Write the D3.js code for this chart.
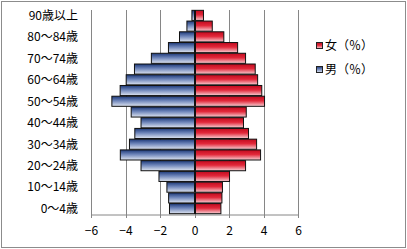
<!DOCTYPE html>
<head>
<meta charset="utf-8">
<title>人口ピラミッド</title>
<script src="https://cdn.jsdelivr.net/npm/d3@7"></script>
<style>
body { margin: 0; background: #fff; }
text { font-family: "Noto Sans CJK JP", sans-serif; fill: #000; }
</style>
</head>
<body>
<script>
// age groups, bottom to top
var ages = ["0～4歳","5～9歳","10～14歳","15～19歳","20～24歳","25～29歳","30～34歳",
	"35～39歳","40～44歳","45～49歳","50～54歳","55～59歳","60～64歳","65～69歳",
	"70～74歳","75～79歳","80～84歳","85～89歳","90歳以上"];
var female = [1.53,1.59,1.62,2.03,2.96,3.83,3.6,3.13,2.84,3.0,4.06,3.9,3.66,3.52,2.96,2.5,1.7,1.03,0.52];
var male = [-1.45,-1.5,-1.6,-2.06,-3.1,-4.3,-3.77,-3.46,-3.1,-3.67,-4.79,-4.31,-3.96,-3.48,-2.5,-1.51,-0.87,-0.44,-0.15];
var xTicks = [-6,-4,-2,0,2,4,6];
var series = ["女（％）","男（％）"];

var width = 407, height = 249;

var svg = d3.select("body").append("svg")
	.attr("width", width)
	.attr("height", height);

// gradients
var defs = svg.append("defs");
function grad(id, c1, c2, c3) {
	var g = defs.append("linearGradient").attr("id", id)
		.attr("x1", 0).attr("y1", 0).attr("x2", 0).attr("y2", 1);
	g.append("stop").attr("offset", "0%").attr("stop-color", c1);
	g.append("stop").attr("offset", "45%").attr("stop-color", c2);
	g.append("stop").attr("offset", "100%").attr("stop-color", c3);
}
grad("gBlue", "#1c3878", "#6f86ba", "#dfe5f1");
grad("gRed", "#c00a1e", "#e2283a", "#f8d0d5");

// outer border
svg.append("rect")
	.attr("x", 1.5).attr("y", 1.5)
	.attr("width", 404).attr("height", 246)
	.attr("fill", "none").attr("stroke", "#8c8c8c");

var x = d3.scaleLinear().domain([-6, 6]).range([91, 298]);
var y = d3.scaleBand().domain(ages.slice().reverse()).range([10, 214]).paddingInner(0.06).paddingOuter(0.03);

// grid lines
svg.append("g").selectAll("line").data(xTicks).enter().append("line")
	.attr("x1", function(d) { return Math.round(x(d)) + 0.5; })
	.attr("x2", function(d) { return Math.round(x(d)) + 0.5; })
	.attr("y1", 10).attr("y2", 218)
	.attr("stroke", "#868686");

// x axis
var xAxis = svg.append("g")
	.attr("transform", "translate(0,214.5)")
	.call(d3.axisBottom(x).tickValues(xTicks).tickSize(0).tickPadding(12));
xAxis.select(".domain").attr("stroke", "#868686");
xAxis.selectAll("text").style("font-size", "12px").attr("fill", "#000");

// bars
var data = ages.map(function(a, i) { return {age: a, f: female[i], m: male[i]}; });

svg.append("g").selectAll("rect").data(data).enter().append("rect")
	.attr("x", function(d) { return x(d.m); })
	.attr("y", function(d) { return y(d.age); })
	.attr("width", function(d) { return x(0) - x(d.m); })
	.attr("height", y.bandwidth())
	.attr("fill", "url(#gBlue)")
	.attr("stroke", "#111").attr("stroke-width", 1);

svg.append("g").selectAll("rect").data(data).enter().append("rect")
	.attr("x", x(0) + 1)
	.attr("y", function(d) { return y(d.age); })
	.attr("width", function(d) { return x(d.f) - x(0) - 1; })
	.attr("height", y.bandwidth())
	.attr("fill", "url(#gRed)")
	.attr("stroke", "#111").attr("stroke-width", 1);

// y labels, every other group
svg.append("g").selectAll("text").data(ages.filter(function(d, i) { return i % 2 == 0; }))
	.enter().append("text")
	.attr("x", 78)
	.attr("y", function(d) { return y(d) + y.bandwidth() / 2; })
	.attr("dy", "0.36em")
	.attr("text-anchor", "end")
	.style("font-size", "12px")
	.text(function(d) { return d; });

// legend
var legend = svg.append("g").selectAll("g").data(series).enter().append("g")
	.attr("transform", function(d, i) { return "translate(316," + (46 + i * 24) + ")"; });
legend.append("rect")
	.attr("x", 0.5).attr("y", -3.5).attr("width", 6).attr("height", 6)
	.attr("fill", function(d, i) { return i == 0 ? "url(#gRed)" : "url(#gBlue)"; })
	.attr("stroke", "#222");
legend.append("text")
	.attr("x", 9).attr("dy", "0.36em")
	.style("font-size", "12px")
	.text(function(d) { return d; });
</script>
</body>
